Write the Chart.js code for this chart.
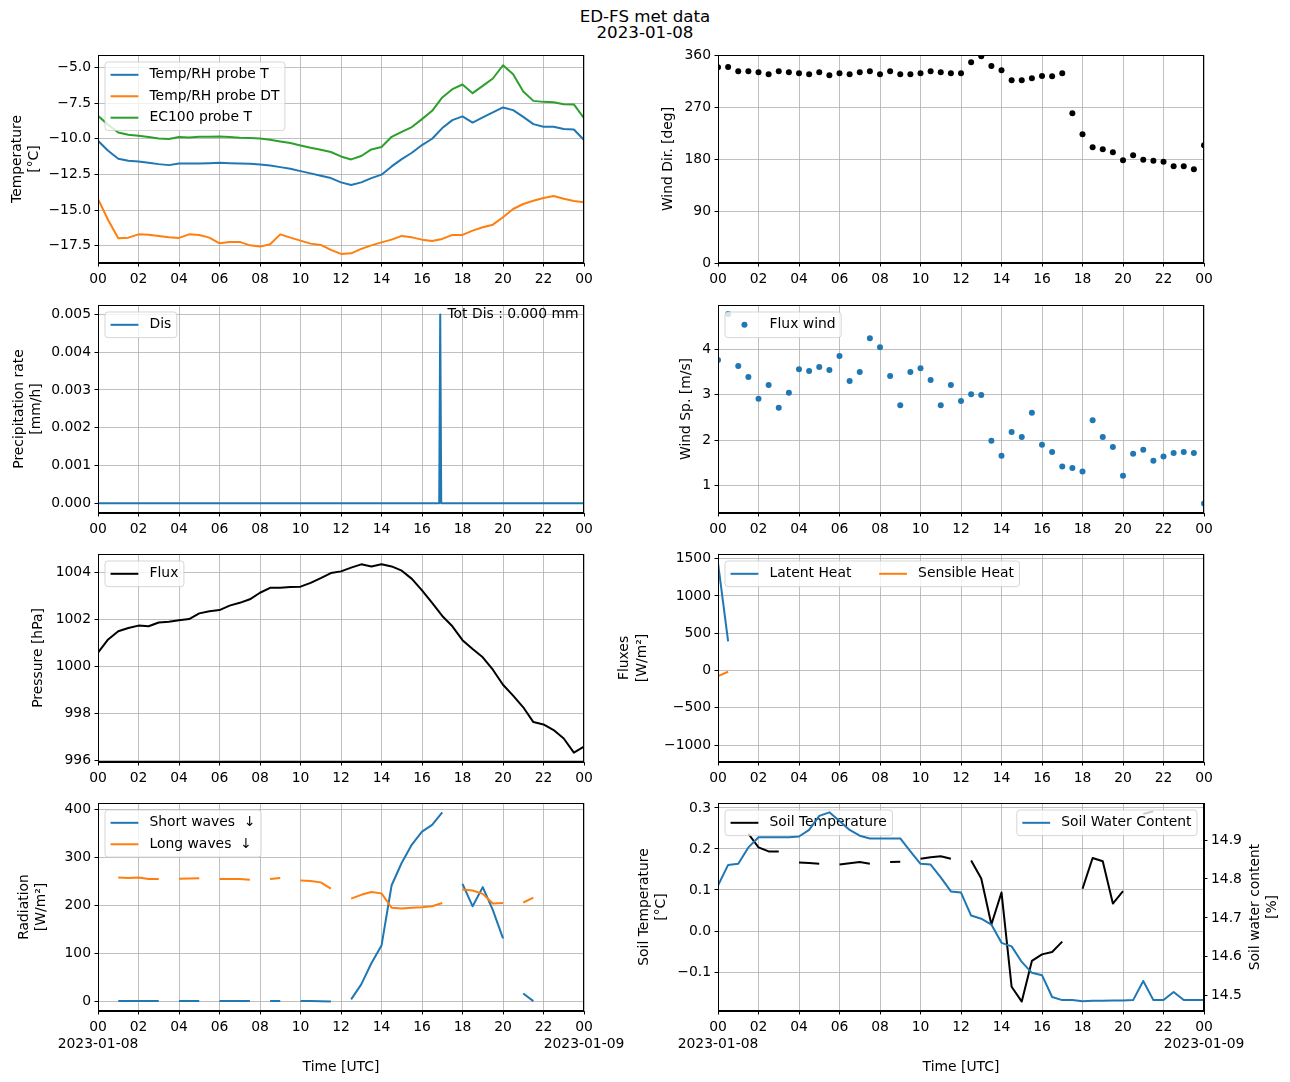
<!DOCTYPE html>
<html>
<head>
<meta charset="utf-8">
<script src="https://cdn.jsdelivr.net/npm/chart.js@4.4.1/dist/chart.umd.min.js"></script>
<style>
body { margin: 0; background: #fff; width: 1290px; height: 1082px; position: relative; overflow: hidden; font-family: "DejaVu Sans", sans-serif; }
#title { position: absolute; left: 0; top: 8px; width: 1290px; text-align: center; font-size: 16.7px; line-height: 16px; }
.panel { position: absolute; }
</style>
</head>
<body>
<div id="title">ED-FS met data<br>2023-01-08</div>
<div class="panel" style="left:0px;top:45px;width:640px;height:258px"><canvas id="temp"></canvas></div>
<div class="panel" style="left:600px;top:45px;width:690px;height:258px"><canvas id="wdir"></canvas></div>
<div class="panel" style="left:0px;top:295px;width:640px;height:258px"><canvas id="precip"></canvas></div>
<div class="panel" style="left:600px;top:295px;width:690px;height:258px"><canvas id="wspd"></canvas></div>
<div class="panel" style="left:0px;top:544px;width:640px;height:258px"><canvas id="press"></canvas></div>
<div class="panel" style="left:600px;top:544px;width:690px;height:258px"><canvas id="flux"></canvas></div>
<div class="panel" style="left:0px;top:793px;width:640px;height:288px"><canvas id="rad"></canvas></div>
<div class="panel" style="left:600px;top:793px;width:690px;height:288px"><canvas id="soil"></canvas></div>

<script>
// half-hourly time stamps (hours UTC)
var hours = [0,0.5,1,1.5,2,2.5,3,3.5,4,4.5,5,5.5,6,6.5,7,7.5,8,8.5,9,9.5,10,10.5,11,11.5,12,
  12.5,13,13.5,14,14.5,15,15.5,16,16.5,17,17.5,18,18.5,19,19.5,20,20.5,21,21.5,22,22.5,23,23.5,24];
var xTicks = [0,2,4,6,8,10,12,14,16,18,20,22,24];

// temperature
var tempT = [-10.14,-10.84,-11.40,-11.54,-11.59,-11.68,-11.78,-11.85,-11.73,-11.73,-11.73,-11.71,-11.68,-11.71,-11.73,-11.75,-11.80,-11.87,-11.99,-12.10,-12.27,-12.43,-12.59,-12.76,-13.06,
  -13.25,-13.06,-12.76,-12.52,-11.94,-11.43,-10.98,-10.44,-10.00,-9.25,-8.69,-8.43,-8.86,-8.50,-8.15,-7.80,-7.99,-8.46,-8.97,-9.16,-9.16,-9.32,-9.35,-10.09];
var tempDT = [-14.23,-15.70,-16.99,-16.94,-16.71,-16.73,-16.82,-16.92,-16.96,-16.71,-16.75,-16.94,-17.34,-17.24,-17.24,-17.48,-17.57,-17.41,-16.71,-16.94,-17.15,-17.36,-17.45,-17.80,-18.08,
  -18.04,-17.73,-17.48,-17.27,-17.08,-16.82,-16.92,-17.08,-17.17,-17.03,-16.75,-16.75,-16.45,-16.21,-16.03,-15.51,-14.93,-14.58,-14.35,-14.16,-14.02,-14.21,-14.37,-14.46];
var tempEC = [-8.39,-9.02,-9.56,-9.72,-9.79,-9.88,-9.98,-10.02,-9.88,-9.91,-9.86,-9.86,-9.84,-9.88,-9.93,-9.95,-9.98,-10.07,-10.19,-10.30,-10.47,-10.63,-10.77,-10.93,-11.24,
  -11.45,-11.21,-10.75,-10.58,-9.86,-9.51,-9.18,-8.62,-8.04,-7.10,-6.52,-6.19,-6.80,-6.29,-5.77,-4.84,-5.47,-6.68,-7.34,-7.41,-7.43,-7.57,-7.59,-8.55];
var tempTicks = [-17.5,-15,-12.5,-10,-7.5,-5];

// precipitation
var precipTime = [0,16.85,16.9,16.95,24];
var precipRate = [0,0,0.005,0,0];
var precipTicks = [0,0.001,0.002,0.003,0.004,0.005];

// pressure
var pressure = [1000.58,1001.14,1001.49,1001.63,1001.73,1001.70,1001.86,1001.89,1001.96,1002.01,1002.25,1002.34,1002.39,1002.58,1002.70,1002.85,1003.13,1003.34,1003.34,1003.37,1003.39,1003.55,1003.75,1003.97,1004.04,
  1004.20,1004.34,1004.25,1004.34,1004.25,1004.07,1003.72,1003.23,1002.70,1002.14,1001.70,1001.11,1000.73,1000.38,999.85,999.21,998.75,998.25,997.62,997.52,997.28,996.92,996.32,996.58];
var pressTicks = [996,998,1000,1002,1004];

// radiation
var shortWave = [null,null,0,0,0,0,0,null,0,0,0,null,0,0,0,0,null,0,0,null,0,0,-0.3,-1,null,
  3.5,35,79,116,242,289,327,354,368,394,null,245,198,238,190,131,null,16,0,null,null,null,null,null];
var longWave = [null,null,258,257,258,255,255,null,255.5,256,256.5,null,255,255,255,253.5,null,255,257,null,252,251,248,235,null,
  214,222,228,225,195,193.5,195,196,198,205,null,233,231,224,204,205,null,206,216,null,null,null,null,null];
var radTicks = [0,100,200,300,400];

// wind
var windDir = [338.7,339.3,331.8,331.8,330.0,326.6,331.8,330.0,328.3,326.6,330.0,324.9,328.3,326.6,330.0,331.8,326.6,331.8,326.6,326.6,328.3,331.8,330.0,328.3,328.3,
  347.3,357.7,341.0,333.5,316.2,316.2,319.7,323.7,323.1,328.3,259.2,222.9,200.5,197.0,191.8,178.0,186.6,178.6,176.8,175.1,167.6,167.6,162.4,203.9];
var dirTicks = [0,90,180,270,360];
var windSpeed = [3.76,4.77,3.63,3.39,2.91,3.21,2.71,3.04,3.56,3.52,3.61,3.54,3.85,3.30,3.50,4.24,4.04,3.41,2.77,3.50,3.58,3.32,2.77,3.21,2.86,
  3.01,2.99,1.99,1.66,2.18,2.07,2.60,1.90,1.74,1.42,1.39,1.31,2.44,2.07,1.85,1.22,1.70,1.79,1.55,1.64,1.72,1.74,1.72,0.61];
var spdTicks = [1,2,3,4];

// turbulent fluxes
var fluxTime = [0,0.5];
var latentHeat = [1442,390];
var sensibleHeat = [-75,-17];
var fluxTicks = [-1000,-500,0,500,1000,1500];

// soil
var soilTemp = [null,null,null,0.237,0.204,0.194,0.194,null,0.167,0.166,0.164,null,0.162,0.165,0.168,0.164,null,0.168,0.169,null,0.176,0.180,0.182,0.176,null,
  0.172,0.128,0.016,0.094,-0.136,-0.172,-0.073,-0.057,-0.051,-0.026,null,0.103,0.178,0.170,0.067,0.097,null,0.285,0.292,null,null,null,null,null];
var soilWater = [14.783,14.836,14.839,14.881,14.907,14.907,14.907,14.907,14.909,14.926,14.962,14.971,14.949,14.926,14.911,14.904,14.904,14.904,14.904,14.871,14.839,14.837,14.804,14.768,14.765,
  14.706,14.698,14.683,14.636,14.627,14.587,14.559,14.553,14.497,14.489,14.489,14.486,14.487,14.487,14.488,14.488,14.489,14.538,14.489,14.489,14.510,14.489,14.489,14.489];
var soilTTicks = [-0.1,0,0.1,0.2,0.3];
var soilWTicks = [14.5,14.6,14.7,14.8,14.9];

var BLUE = '#1f77b4', ORANGE = '#ff7f0e', GREEN = '#2ca02c', BLACK = '#000000';
var FS = 13.9;

Chart.defaults.font.family = '"DejaVu Sans", sans-serif';
Chart.defaults.font.size = FS;
Chart.defaults.color = '#000';
Chart.defaults.animation = false;

function pts(xs, ys) {
	return xs.map(function(x, i) { return {x: x, y: ys[i]}; });
}

function fmt(v, d) {
	return v.toFixed(d).replace('-', '\u2212');
}

function line(label, xs, ys, color, order) {
	return {label: label, data: pts(xs, ys), borderColor: color, backgroundColor: color, borderWidth: 2,
		pointRadius: 0, tension: 0, spanGaps: false, clip: 0, order: order || 0, borderJoinStyle: 'round'};
}

function dots(label, xs, ys, color) {
	return {label: label, data: pts(xs, ys), showLine: false, pointRadius: 3, pointBorderWidth: 0,
		pointBackgroundColor: color, borderColor: color, backgroundColor: color, clip: 0};
}

function xAxis(bottom) {
	return {
		type: 'linear', min: 0, max: 24,
		afterBuildTicks: function(s) { s.ticks = xTicks.map(function(v) { return {value: v}; }); },
		afterFit: function(s) { s.height = bottom ? 70 : 40; s.paddingLeft = 0; s.paddingRight = 0; },
		ticks: {
			padding: 4.2, autoSkip: false, maxRotation: 0,
			font: {size: FS, lineHeight: bottom ? 1.25 : 1.2},
			callback: function(v) {
				var lab = ('0' + (v % 24)).slice(-2);
				if (bottom && v === 0) return [lab, '2023-01-08'];
				if (bottom && v === 24) return [lab, '2023-01-09'];
				return lab;
			}
		},
		grid: {color: '#b0b0b0', lineWidth: 0.8, tickLength: 3.5, tickColor: '#000', tickWidth: 1},
		border: {color: '#000', width: 1},
		title: {display: bottom, text: 'Time [UTC]', padding: {top: 0, bottom: 5.5}, font: {size: FS, lineHeight: 1.2}}
	};
}

function yAxis(o) {
	return {
		type: 'linear', position: o.pos || 'left', min: o.min, max: o.max,
		afterBuildTicks: function(s) { s.ticks = o.ticks.map(function(v) { return {value: v}; }); },
		afterFit: function(s) { s.width = o.width; s.paddingTop = 0; s.paddingBottom = 0; },
		ticks: {padding: 3.5, autoSkip: false, callback: function(v) { return fmt(v, o.dec); }},
		grid: {color: '#b0b0b0', lineWidth: 0.8, tickLength: 3.5, tickColor: '#000', tickWidth: 1,
			drawOnChartArea: o.grid !== false},
		border: {color: '#000', width: 1},
		title: {display: !!o.title, text: o.title, padding: {top: o.tpad || 0, bottom: 0}, font: {size: FS, lineHeight: 1.25}}
	};
}

// black box round the axes, like matplotlib spines
var frame = {
	id: 'frame',
	afterDatasetsDraw: function(chart) {
		var a = chart.chartArea, c = chart.ctx;
		c.save();
		c.strokeStyle = '#000';
		c.lineWidth = 1;
		var l = Math.round(a.left) + 0.5, t = Math.round(a.top) + 0.5;
		c.strokeRect(l, t, Math.round(a.right) - Math.round(a.left) - 1, Math.round(a.bottom) - Math.round(a.top) - 1);
		c.restore();
	}
};

function roundBox(c, x, y, w, h, r) {
	c.beginPath();
	c.moveTo(x + r, y);
	c.arcTo(x + w, y, x + w, y + h, r);
	c.arcTo(x + w, y + h, x, y + h, r);
	c.arcTo(x, y + h, x, y, r);
	c.arcTo(x, y, x + w, y, r);
	c.closePath();
}

function drawLegend(chart, b) {
	var c = chart.ctx, a = chart.chartArea;
	var pad = 0.4 * FS, hl = 2 * FS, htp = 0.8 * FS, rowH = 14.5, ls = 0.5 * FS, cs = 2 * FS;
	c.save();
	c.font = FS + 'px "DejaVu Sans"';
	var tw = b.items.map(function(it) { return c.measureText(it.label).width; });
	var w, h;
	if (b.horizontal) {
		w = 2 * pad + tw.reduce(function(s, t) { return s + hl + htp + t; }, 0) + cs * (b.items.length - 1);
		h = 2 * pad + rowH;
	} else {
		w = 2 * pad + hl + htp + Math.max.apply(null, tw);
		h = 2 * pad + b.items.length * rowH + (b.items.length - 1) * ls;
	}
	var x0 = b.loc === 'right' ? a.right - 7 - w : a.left + 7;
	var y0 = a.top + 7;
	roundBox(c, x0, y0, w, h, 3);
	c.fillStyle = 'rgba(255,255,255,0.8)';
	c.fill();
	c.strokeStyle = 'rgba(204,204,204,0.8)';
	c.lineWidth = 1;
	c.stroke();
	var hx = x0 + pad;
	b.items.forEach(function(it, i) {
		var cy = b.horizontal ? y0 + pad + rowH / 2 : y0 + pad + rowH / 2 + i * (rowH + ls);
		var sx = b.horizontal ? hx : x0 + pad;
		if (it.point) {
			c.fillStyle = it.color;
			c.beginPath();
			c.arc(sx + hl / 2, cy, 3, 0, Math.PI * 2);
			c.fill();
		} else {
			c.strokeStyle = it.color;
			c.lineWidth = 2;
			c.beginPath();
			c.moveTo(sx, cy);
			c.lineTo(sx + hl, cy);
			c.stroke();
		}
		c.fillStyle = '#000';
		c.textBaseline = 'middle';
		c.textAlign = 'left';
		c.fillText(it.label, sx + hl + htp, cy);
		if (b.horizontal) hx += hl + htp + tw[i] + cs;
	});
	c.restore();
}

function legendPlugin(boxes) {
	return {
		id: 'mplLegend',
		afterDatasetDraw: function(chart, args) {
			boxes.forEach(function(b) { if (b.after === args.index) drawLegend(chart, b); });
		},
		afterDatasetsDraw: function(chart) {
			boxes.forEach(function(b) { if (b.after === undefined) drawLegend(chart, b); });
		}
	};
}

function makeChart(id, datasets, scales, padRight, plugins) {
	return new Chart(document.getElementById(id), {
		type: 'line',
		data: {datasets: datasets},
		options: {
			responsive: true, maintainAspectRatio: false,
			layout: {padding: {top: 10, right: padRight, left: 0, bottom: 0}},
			plugins: {legend: {display: false}, tooltip: {enabled: false}},
			scales: scales
		},
		plugins: [frame].concat(plugins || [])
	});
}

// Temperature
makeChart('temp', [
	line('Temp/RH probe T', hours, tempT, BLUE, 0),
	line('Temp/RH probe DT', hours, tempDT, ORANGE, -1),
	line('EC100 probe T', hours, tempEC, GREEN, -2)
], {
	x: xAxis(false),
	y: yAxis({min: -18.72, max: -4.12, ticks: tempTicks, dec: 1, width: 98, title: ['Temperature', '[°C]'], tpad: 8.5})
}, 56, [legendPlugin([{items: [
	{label: 'Temp/RH probe T', color: BLUE},
	{label: 'Temp/RH probe DT', color: ORANGE},
	{label: 'EC100 probe T', color: GREEN}]}])]);

// Wind direction
makeChart('wdir', [
	dots('Wind dir', hours, windDir, BLACK)
], {
	x: xAxis(false),
	y: yAxis({min: 0, max: 360, ticks: dirTicks, dec: 0, width: 118, title: 'Wind Dir. [deg]', tpad: 60})
}, 86);

// Precipitation
makeChart('precip', [
	line('Dis', precipTime, precipRate, BLUE)
], {
	x: xAxis(false),
	y: yAxis({min: -0.00026, max: 0.00525, ticks: precipTicks, dec: 3, width: 98, title: ['Precipitation rate', '[mm/h]'], tpad: 10.5})
}, 56, [legendPlugin([{items: [{label: 'Dis', color: BLUE}]}]), {
	id: 'totDis',
	afterDraw: function(chart) {
		var a = chart.chartArea, c = chart.ctx;
		c.save();
		c.font = FS + 'px "DejaVu Sans"';
		c.fillStyle = '#000';
		c.textAlign = 'right';
		c.textBaseline = 'middle';
		c.fillText('Tot Dis : 0.000 mm', a.right - 5.5, a.top + 9.3);
		c.restore();
	}
}]);

// Wind speed
makeChart('wspd', [
	dots('Flux wind', hours, windSpeed, BLUE)
], {
	x: xAxis(false),
	y: yAxis({min: 0.40, max: 4.97, ticks: spdTicks, dec: 0, width: 118, title: 'Wind Sp. [m/s]', tpad: 77.5})
}, 86, [legendPlugin([{items: [{label: 'Flux wind', color: BLUE, point: true}]}])]);

// Pressure
makeChart('press', [
	line('Flux', hours, pressure, BLACK)
], {
	x: xAxis(false),
	y: yAxis({min: 995.92, max: 1004.78, ticks: pressTicks, dec: 0, width: 98, title: 'Pressure [hPa]', tpad: 30})
}, 56, [legendPlugin([{items: [{label: 'Flux', color: BLACK}]}])]);

// Fluxes
makeChart('flux', [
	line('Latent Heat', fluxTime, latentHeat, BLUE, 0),
	line('Sensible Heat', fluxTime, sensibleHeat, ORANGE, -1)
], {
	x: xAxis(false),
	y: yAxis({min: -1228, max: 1563, ticks: fluxTicks, dec: 0, width: 118, title: ['Fluxes', '[W/m²]'], tpad: 16})
}, 86, [legendPlugin([{horizontal: true, items: [
	{label: 'Latent Heat', color: BLUE},
	{label: 'Sensible Heat', color: ORANGE}]}])]);

// Radiation
makeChart('rad', [
	line('Short waves ↓', hours, shortWave, BLUE, 0),
	line('Long waves ↓', hours, longWave, ORANGE, -1)
], {
	x: xAxis(true),
	y: yAxis({min: -20.7, max: 413.8, ticks: radTicks, dec: 0, width: 98, title: ['Radiation', '[W/m²]'], tpad: 15.5})
}, 56, [legendPlugin([{items: [
	{label: 'Short waves  ↓', color: BLUE},
	{label: 'Long waves  ↓', color: ORANGE}]}])]);

// Soil: temperature on the left axis, water content on the right axis
makeChart('soil', [
	Object.assign(line('Soil Temperature', hours, soilTemp, BLACK, 0), {yAxisID: 'y'}),
	Object.assign(line('Soil Water Content', hours, soilWater, BLUE, -1), {yAxisID: 'y2'})
], {
	x: xAxis(true),
	y: yAxis({min: -0.195, max: 0.312, ticks: soilTTicks, dec: 1, width: 118, title: ['Soil Temperature', '[°C]'], tpad: 35.5}),
	y2: yAxis({pos: 'right', min: 14.461, max: 14.995, ticks: soilWTicks, dec: 1, width: 86, grid: false})
}, 0, [legendPlugin([
	{after: 0, items: [{label: 'Soil Temperature', color: BLACK}]},
	{loc: 'right', items: [{label: 'Soil Water Content', color: BLUE}]}
]), {
	id: 'rightTitle',
	afterDraw: function(chart) {
		var a = chart.chartArea, c = chart.ctx, cy = (a.top + a.bottom) / 2;
		c.save();
		c.font = FS + 'px "DejaVu Sans"';
		c.fillStyle = '#000';
		c.textAlign = 'center';
		c.textBaseline = 'middle';
		[['Soil water content', 655.5], ['[%]', 672.5]].forEach(function(p) {
			c.save();
			c.translate(p[1], cy);
			c.rotate(-Math.PI / 2);
			c.fillText(p[0], 0, 0);
			c.restore();
		});
		c.restore();
	}
}]);
</script>
</body>
</html>
